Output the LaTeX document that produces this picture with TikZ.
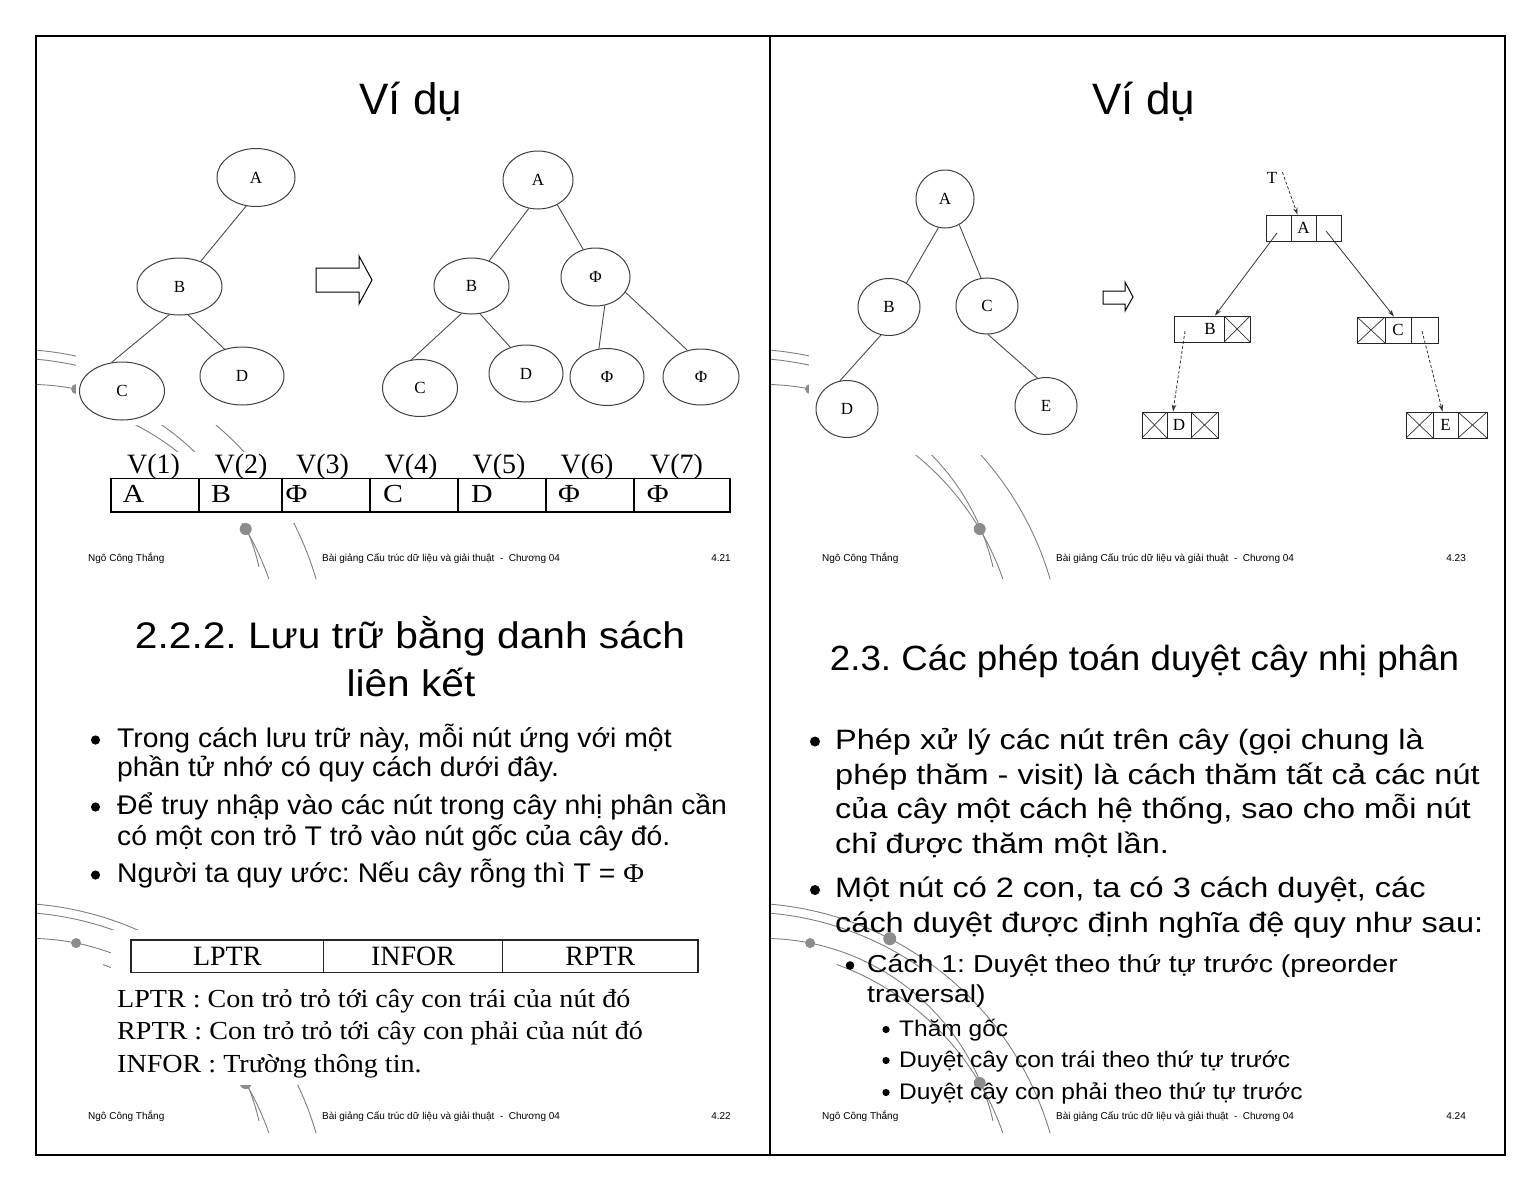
\documentclass[tikz,border=0pt]{standalone}
\usepackage{fontspec}
\usepackage{graphicx}
\setmainfont{Liberation Sans}
\newfontfamily\tnr{Liberation Serif}
\usetikzlibrary{shapes.geometric,arrows.meta,calc}
\frenchspacing
\newcommand\wx[2]{\scalebox{#1}[1]{#2}}
\newcommand\fsz[1]{\fontsize{#1}{#1}\selectfont}
\newcommand\slidearcs{%
  \draw[decoline] (-27,633) ++(-85.16:320) arc[start angle=-85.16, end angle=-16.3, radius=320];
  \draw[decoline] (-27,633) ++(-85:311) arc[start angle=-85, end angle=-55, radius=311];
  \draw[decoline] (-6.4,583.8) ++(-88.4:235.4) arc[start angle=-88.4, end angle=-13, radius=235.4];
  \draw[decoline] (-27,633) ++(-70:275) arc[start angle=-70, end angle=-19.1, radius=275];
  \fill[decodot] (-27,633) ++(-62.7:320) circle[radius=6.5];
  \fill[decodot] (-6.4,583.8) ++(-78.6:235.4) circle[radius=5];
  \fill[decodot] (-27,633) ++(-30.6:275) circle[radius=6];
}
\tikzset{
  tnode/.style={ellipse, draw=black!75, line width=1pt, inner sep=0pt, font=\tnr\fsz{17}},
  tedge/.style={draw=black!70, line width=0.9pt},
  lcell/.style={rectangle, draw=black!85, line width=0.9pt, inner sep=0pt, minimum height=26pt, font=\tnr\fsz{17}},
  lxcell/.style={lcell, path picture={\draw[black!80, line width=0.7pt] (path picture bounding box.north west) -- (path picture bounding box.south east) (path picture bounding box.north east) -- (path picture bounding box.south west);}},
  ptr/.style={draw=black!80, line width=0.8pt, -{Stealth[length=7pt,width=4.5pt]}},
  dptr/.style={ptr, dash pattern=on 3pt off 2pt},
  decoline/.style={draw=black!50, line width=0.9pt},
  decodot/.style={fill=black!45},
  maskbox/.style={fill=white, draw=none},
  footer/.style={font=\fsz{10}, anchor=base west, inner sep=0pt},
  footnum/.style={font=\fsz{10}, anchor=base east, inner sep=0pt},
  slidetitle/.style={font=\fsz{44}, anchor=base, inner sep=0pt},
  bodyline/.style={anchor=base west, inner sep=0pt},
  vlabel/.style={font=\tnr\fsz{28}, anchor=base, inner sep=0pt},
  vcell/.style={rectangle, draw=black, line width=1.3pt, minimum height=33.7pt, inner sep=0pt},
  vtext/.style={font=\tnr\fsz{26}, anchor=base west, inner sep=0pt},
  ftable/.style={rectangle, draw=black!85, line width=1.1pt, minimum height=32.7pt, inner sep=0pt, font=\tnr\fsz{28}},
  hollow/.style={draw=black, line width=1pt, fill=white},
  bdot/.style={fill=black},
}
\begin{document}
\begin{tikzpicture}[x=1pt,y=-1pt]
\useasboundingbox (0,0) rectangle (1539,1189);
\fill[white] (0,0) rectangle (1539,1189);

% ---------- decorative template arcs ----------
\begin{scope}\clip (36,36) rectangle (770,590);
  \begin{scope}[shift={(36,36)}]\slidearcs\end{scope}\end{scope}
\begin{scope}\clip (770,36) rectangle (1505,590);
  \begin{scope}[shift={(770,36)}]\slidearcs\end{scope}\end{scope}
\begin{scope}\clip (36,590) rectangle (770,1155);
  \begin{scope}[shift={(36,590)}]\slidearcs\end{scope}\end{scope}
\begin{scope}\clip (770,590) rectangle (1505,1155);
  \begin{scope}[shift={(770,590)}]\slidearcs\end{scope}\end{scope}

% picture backgrounds hiding the arcs
\fill[maskbox] (76,140) rectangle (745,425);
\fill[maskbox] (105,452) rectangle (735,523);
\fill[maskbox] (809,145) rectangle (1495,455);
\fill[maskbox] (111,930) rectangle (700,1085);

% ================= Slide 1 (4.21) =================
\node[slidetitle] (t1) at (411,114) {Ví dụ};

\node[tnode, minimum width=78, minimum height=58] (LA) at (256,177.5) {A};
\node[tnode, minimum width=85, minimum height=57] (LB) at (179.5,286.5) {B};
\node[tnode, minimum width=85, minimum height=58] (LC) at (122,391) {C};
\node[tnode, minimum width=84, minimum height=58] (LD) at (242,376) {D};
\draw[tedge] (LA.251) -- (LB.50);
\draw[tedge] (LB.250) -- (LC.110);
\draw[tedge] (LB.287) -- (LD.123);

\draw[hollow] (316,268) -- (359,268) -- (359,256) -- (372,280) -- (359,304) -- (359,292) -- (316,292) -- cycle;

\node[tnode, minimum width=70, minimum height=58] (A2) at (538,180) {A};
\node[tnode, minimum width=75, minimum height=56] (B2) at (471.5,286) {B};
\node[tnode, minimum width=69, minimum height=58] (F1) at (595.5,277) {Φ};
\node[tnode, minimum width=75, minimum height=57] (C2) at (420,388) {C};
\node[tnode, minimum width=74, minimum height=57] (D2) at (526,373.5) {D};
\node[tnode, minimum width=74, minimum height=57] (F2) at (607,377) {Φ};
\node[tnode, minimum width=76, minimum height=56] (F3) at (701,377) {Φ};
\draw[tedge] (A2.252) -- (B2.55);
\draw[tedge] (A2.308) -- (F1.114);
\draw[tedge] (B2.250) -- (C2.107);
\draw[tedge] (B2.287) -- (D2.121);
\draw[tedge] (F1.288) -- (F2.106);
\draw[tedge] (F1.333) -- (F3.117);

\node[vlabel] (v1) at (153.5,473) {V(1)};
\node[vlabel] (v2) at (241,473) {V(2)};
\node[vlabel] (v3) at (322.5,473) {V(3)};
\node[vlabel] (v4) at (411,473) {V(4)};
\node[vlabel] (v5) at (499,473) {V(5)};
\node[vlabel] (v6) at (587,473) {V(6)};
\node[vlabel] (v7) at (676.5,473) {V(7)};
\node[vcell, minimum width=88] (c1) at (155,495) {};
\node[vcell, minimum width=83] (c2) at (240.5,495) {};
\node[vcell, minimum width=88] (c3) at (326,495) {};
\node[vcell, minimum width=88] (c4) at (414,495) {};
\node[vcell, minimum width=88] (c5) at (502,495) {};
\node[vcell, minimum width=88] (c6) at (590,495) {};
\node[vcell, minimum width=96] (c7) at (682,495) {};
\node[vtext] (x1) at (122.5,502.5) {\wx{1.15}{A}};
\node[vtext] (x2) at (211,502.5) {\wx{1.15}{B}};
\node[vtext] (x3) at (285.5,502.5) {\wx{1.15}{Φ}};
\node[vtext] (x4) at (383,502.5) {\wx{1.15}{C}};
\node[vtext] (x5) at (471,502.5) {\wx{1.15}{D}};
\node[vtext] (x6) at (558,502.5) {\wx{1.15}{Φ}};
\node[vtext] (x7) at (646.7,502.5) {\wx{1.15}{Φ}};

\node[footer] (f1a) at (88,561) {Ngô Công Thắng};
\node[footer] (f1b) at (322,561) {Bài giảng Cấu trúc dữ liệu và giải thuật\ \ -\ \ Chương 04};
\node[footnum] (f1c) at (731,561) {4.21};

% ================= Slide 2 (4.23) =================
\node[slidetitle] (t2) at (1144,114) {Ví dụ};

\node[tnode, minimum width=58, minimum height=58] (RA) at (945,199) {A};
\node[tnode, minimum width=62, minimum height=57] (RB) at (889,307) {B};
\node[tnode, minimum width=62, minimum height=56] (RC) at (987,306) {C};
\node[tnode, minimum width=62, minimum height=57] (RD) at (847,409) {D};
\node[tnode, minimum width=62, minimum height=57] (RE) at (1046,406) {E};
\draw[tedge] (RA.257) -- (RB.54);
\draw[tedge] (RA.299) -- (RC.102);
\draw[tedge] (RB.254) -- (RD.104);
\draw[tedge] (RC.272) -- (RE.107);

\draw[hollow] (1103,291) -- (1125,291) -- (1125,282) -- (1133,297) -- (1125,311) -- (1125,304) -- (1103,304) -- cycle;

\node[lcell, minimum width=25] (Al) at (1278.5,228) {};
\node[lcell, minimum width=25] (Am) at (1303.5,228) {A};
\node[lcell, minimum width=25] (Ar) at (1328.5,228) {};
\node[lcell, minimum width=50] (Bp) at (1199,329) {};
\node[lxcell, minimum width=26] (Bx) at (1237,329) {};
\node[font=\tnr\fsz{17}, inner sep=0pt] (Blab) at (1210,329) {B};
\node[lxcell, minimum width=28] (Cx) at (1371,330) {};
\node[lcell, minimum width=26] (Cm) at (1398,330) {C};
\node[lcell, minimum width=27] (Cr) at (1424.5,330) {};
\node[lxcell, minimum width=25] (Dx1) at (1154.5,425) {};
\node[lcell, minimum width=24] (Dm) at (1179,425) {D};
\node[lxcell, minimum width=27] (Dx2) at (1204.5,425) {};
\node[lxcell, minimum width=27] (Ex1) at (1419.5,425) {};
\node[lcell, minimum width=25] (Em) at (1445.5,425) {E};
\node[lxcell, minimum width=29] (Ex2) at (1472.5,425) {};

\node[font=\tnr\fsz{17}, inner sep=0pt] (T) at (1272,178) {T};
\coordinate (pAL) at (1277,233);
\coordinate (pAR) at (1326,231);
\coordinate (pBL) at (1185,331);
\coordinate (pCR) at (1422,331);
\draw[dptr] ([xshift=5pt]T.north east) -- ([xshift=-6pt]Am.north);
\draw[ptr] (pAL) -- ([xshift=16pt]Bp.north);
\draw[ptr] (pAR) -- ([xshift=-4pt]Cm.north);
\draw[dptr] (pBL) -- ([xshift=-6pt]Dm.north);
\draw[dptr] (pCR) -- ([xshift=-3pt]Em.north);

\node[footer] (f2a) at (822,561) {Ngô Công Thắng};
\node[footer] (f2b) at (1056,561) {Bài giảng Cấu trúc dữ liệu và giải thuật\ \ -\ \ Chương 04};
\node[footnum] (f2c) at (1466,561) {4.23};

% ================= Slide 3 (4.22) =================
\node[font=\fsz{37}, anchor=base, inner sep=0pt] (t3a) at (410,648) {\wx{1.1}{2.2.2. Lưu trữ bằng danh sách}};
\node[font=\fsz{37}, anchor=base, inner sep=0pt] (t3b) at (411,696) {\wx{1.1}{liên kết}};

\fill[bdot] (95.5,740) circle[radius=4.6];
\fill[bdot] (95.5,807) circle[radius=4.6];
\fill[bdot] (95.5,875) circle[radius=4.6];
\node[bodyline, font=\fsz{27}] (s3l1) at (117,747) {\wx{1.05}{Trong cách lưu trữ này, mỗi nút ứng với một}};
\node[bodyline, font=\fsz{27}] (s3l2) at (117,776) {\wx{1.05}{phần tử nhớ có quy cách dưới đây.}};
\node[bodyline, font=\fsz{27}] (s3l3) at (117,814) {\wx{1.05}{Để truy nhập vào các nút trong cây nhị phân cần}};
\node[bodyline, font=\fsz{27}] (s3l4) at (117,845) {\wx{1.05}{có một con trỏ T trỏ vào nút gốc của cây đó.}};
\node[bodyline, font=\fsz{27}] (s3l5) at (117,882) {\wx{1.05}{Người ta quy ước: Nếu cây rỗng thì T = {\tnr Φ}}};

\node[ftable, minimum width=192.5] (lp) at (227.25,956.3) {LPTR};
\node[ftable, minimum width=179.2] (inf) at (413.1,956.3) {INFOR};
\node[ftable, minimum width=195.3] (rp) at (600.35,956.3) {RPTR};

\node[bodyline, font=\tnr\fsz{26}] (d1) at (117,1007) {\wx{1.08}{LPTR : Con trỏ trỏ tới cây con trái của nút đó}};
\node[bodyline, font=\tnr\fsz{26}] (d2) at (117,1039.5) {\wx{1.08}{RPTR : Con trỏ trỏ tới cây con phải của nút đó}};
\node[bodyline, font=\tnr\fsz{26}] (d3) at (117,1072.5) {\wx{1.08}{INFOR : Trường thông tin.}};

\node[footer] (f3a) at (88,1119) {Ngô Công Thắng};
\node[footer] (f3b) at (322,1119) {Bài giảng Cấu trúc dữ liệu và giải thuật\ \ -\ \ Chương 04};
\node[footnum] (f3c) at (731,1119) {4.22};

% ================= Slide 4 (4.24) =================
\node[font=\fsz{35}, anchor=base, inner sep=0pt] (t4) at (1144.5,670) {\wx{1.05}{2.3. Các phép toán duyệt cây nhị phân}};

\fill[bdot] (815,741.5) circle[radius=5];
\fill[bdot] (815,890) circle[radius=5];
\node[bodyline, font=\fsz{28}] (s4l1) at (835,749) {\wx{1.16}{Phép xử lý các nút trên cây (gọi chung là}};
\node[bodyline, font=\fsz{28}] (s4l2) at (835,784) {\wx{1.16}{phép thăm - visit) là cách thăm tất cả các nút}};
\node[bodyline, font=\fsz{28}] (s4l3) at (835,818.5) {\wx{1.16}{của cây một cách hệ thống, sao cho mỗi nút}};
\node[bodyline, font=\fsz{28}] (s4l4) at (835,853) {\wx{1.16}{chỉ được thăm một lần.}};
\node[bodyline, font=\fsz{28}] (s4l5) at (835,897) {\wx{1.16}{Một nút có 2 con, ta có 3 cách duyệt, các}};
\node[bodyline, font=\fsz{28}] (s4l6) at (835,932) {\wx{1.16}{cách duyệt được định nghĩa đệ quy như sau:}};

\fill[bdot] (850,965.5) circle[radius=4.3];
\node[bodyline, font=\fsz{24.5}] (s4s1) at (867,972) {\wx{1.16}{Cách 1: Duyệt theo thứ tự trước (preorder}};
\node[bodyline, font=\fsz{24.5}] (s4s2) at (867,1002) {\wx{1.16}{traversal)}};

\fill[bdot] (886,1029.5) circle[radius=3.6];
\fill[bdot] (886,1060.5) circle[radius=3.6];
\fill[bdot] (886,1092.5) circle[radius=3.6];
\node[bodyline, font=\fsz{22.5}] (s4u1) at (899,1036) {\wx{1.09}{Thăm gốc}};
\node[bodyline, font=\fsz{22.5}] (s4u2) at (899,1067) {\wx{1.09}{Duyệt cây con trái theo thứ tự trước}};
\node[bodyline, font=\fsz{22.5}] (s4u3) at (899,1099) {\wx{1.09}{Duyệt cây con phải theo thứ tự trước}};

\node[footer] (f4a) at (822,1119) {Ngô Công Thắng};
\node[footer] (f4b) at (1056,1119) {Bài giảng Cấu trúc dữ liệu và giải thuật\ \ -\ \ Chương 04};
\node[footnum] (f4c) at (1466,1119) {4.24};

% ---------- frame ----------
\draw[line width=1.2pt] (36,36) rectangle (1505,1155);
\draw[line width=1.2pt] (770,36) -- (770,1155);
\end{tikzpicture}
\end{document}
